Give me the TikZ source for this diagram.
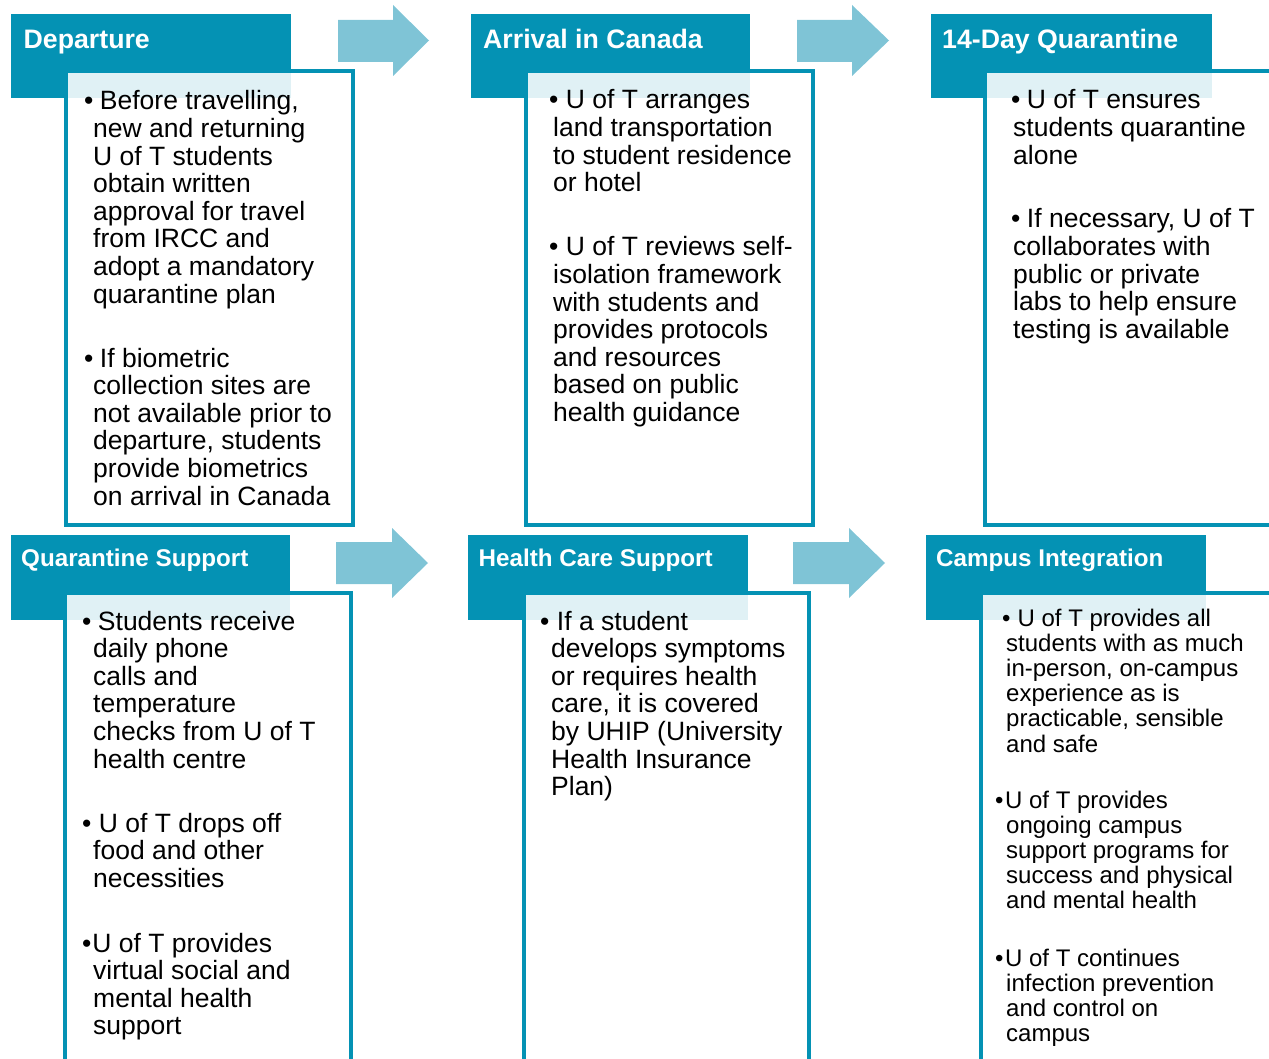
\documentclass[tikz,border=0pt]{standalone}
\usepackage{fontspec}
\setmainfont{Liberation Sans}
\definecolor{tealc}{RGB}{4,146,180}
\definecolor{flowc}{RGB}{127,196,214}
\newcommand\bp[4]{\parbox[t]{400pt}{\fontsize{#1}{#2}\selectfont\hangindent=#3pt\hangafter=1\noindent#4}}
\tikzset{
  hdr/.style={fill=tealc},
  cbox/.style={draw=tealc, line width=4pt, fill=white, fill opacity=0.88},
  flow/.style={fill=flowc},
  htop/.style={anchor=base west, inner sep=0pt, text=white, font=\bfseries\fontsize{26.7}{30}\selectfont},
  hbot/.style={anchor=base west, inner sep=0pt, text=white, font=\bfseries\fontsize{24.2}{28}\selectfont},
  btext/.style={anchor=base west, inner sep=0pt, text=black},
}
\begin{document}
\begin{tikzpicture}[x=1pt,y=-1pt]
\useasboundingbox (0,0) rectangle (1269,1059);
\clip (0,0) rectangle (1269,1059);
% ---- arrows
\fill[flow] (338,20) -- (393,20) -- (393,5) -- (429,40.5) -- (393,76) -- (393,62) -- (338,62) -- cycle;
\fill[flow] (797,20) -- (852,20) -- (852,5) -- (889,40.5) -- (852,76) -- (852,62) -- (797,62) -- cycle;
\fill[flow] (336,542) -- (392,542) -- (392,528) -- (428,563) -- (392,598) -- (392,584) -- (336,584) -- cycle;
\fill[flow] (793,542) -- (849,542) -- (849,528) -- (885,563) -- (849,598) -- (849,584) -- (793,584) -- cycle;
% ---- panel 1
\fill[hdr] (11,14) rectangle (291,98);
\draw[cbox] (66,71) rectangle (353,525);
\node[htop] (h1) at (23.5,49) {Departure};
\node[btext] (p1a) at (84,110) {\bp{26.5}{27.6}{9}{•\hspace{6.5pt}Before travelling,\\new and returning\\U of T students\\obtain written\\approval for travel\\from IRCC and\\adopt a mandatory\\quarantine plan}};
\node[btext] (p1b) at (84,367) {\bp{26.5}{27.6}{9}{•\hspace{6.5pt}If biometric\\collection sites are\\not available prior to\\departure, students\\provide biometrics\\on arrival in Canada}};
% ---- panel 2
\fill[hdr] (471,14) rectangle (750,98);
\draw[cbox] (526,71) rectangle (813,525);
\node[htop] (h2) at (483,49) {Arrival in Canada};
\node[btext] (p2a) at (549,109) {\bp{26.5}{27.6}{4}{•\hspace{7.5pt}U of T arranges\\land transportation\\to student residence\\or hotel}};
\node[btext] (p2b) at (549,256) {\bp{26.5}{27.6}{4}{•\hspace{7.5pt}U of T reviews self-\\isolation framework\\with students and\\provides protocols\\and resources\\based on public\\health guidance}};
% ---- panel 3
\fill[hdr] (931,14) rectangle (1212,98);
\draw[cbox] (985,71) rectangle (1290,525);
\node[htop] (h3) at (942,49) {14-Day Quarantine};
\node[btext] (p3a) at (1011,109) {\bp{26.5}{27.6}{2}{•\hspace{6.5pt}U of T ensures\\students quarantine\\alone}};
\node[btext] (p3b) at (1011,228) {\bp{26.5}{27.6}{2}{•\hspace{6.5pt}If necessary, U of T\\collaborates with\\public or private\\labs to help ensure\\testing is available}};
% ---- panel 4
\fill[hdr] (11,535) rectangle (290,620);
\draw[cbox] (65,593) rectangle (351,1080);
\node[hbot] (h4) at (21,566) {Quarantine Support};
\node[btext] (p4a) at (82,630) {\bp{26.5}{27.6}{11}{•\hspace{6.5pt}Students receive\\daily phone\\calls and\\temperature\\checks from U of T\\health centre}};
\node[btext] (p4b) at (82,832) {\bp{26.5}{27.6}{11}{•\hspace{7.5pt}U of T drops off\\food and other\\necessities}};
\node[btext] (p4c) at (82,952) {\bp{26.5}{27.6}{11}{•\hspace{1pt}U of T provides\\virtual social and\\mental health\\support}};
% ---- panel 5
\fill[hdr] (468,535) rectangle (748,620);
\draw[cbox] (524,593) rectangle (809,1080);
\node[hbot] (h5) at (478.5,566) {Health Care Support};
\node[btext] (p5a) at (540,630) {\bp{26.5}{27.6}{11}{•\hspace{7.5pt}If a student\\develops symptoms\\or requires health\\care, it is covered\\by UHIP (University\\Health Insurance\\Plan)}};
% ---- panel 6
\fill[hdr] (926,535) rectangle (1206,620);
\draw[cbox] (981,593) rectangle (1290,1080);
\node[hbot] (h6) at (936,566) {Campus Integration};
\node[btext] (p6a) at (1002,626) {\bp{24}{25.2}{4}{•\hspace{7pt}U of T provides all\\students with as much\\in-person, on-campus\\experience as is\\practicable, sensible\\and safe}};
\node[btext] (p6b) at (995,808) {\bp{24}{25.2}{11}{•\hspace{1.5pt}U of T provides\\ongoing campus\\support programs for\\success and physical\\and mental health}};
\node[btext] (p6c) at (995,966) {\bp{24}{25.2}{11}{•\hspace{1.5pt}U of T continues\\infection prevention\\and control on\\campus}};
\end{tikzpicture}
\end{document}
